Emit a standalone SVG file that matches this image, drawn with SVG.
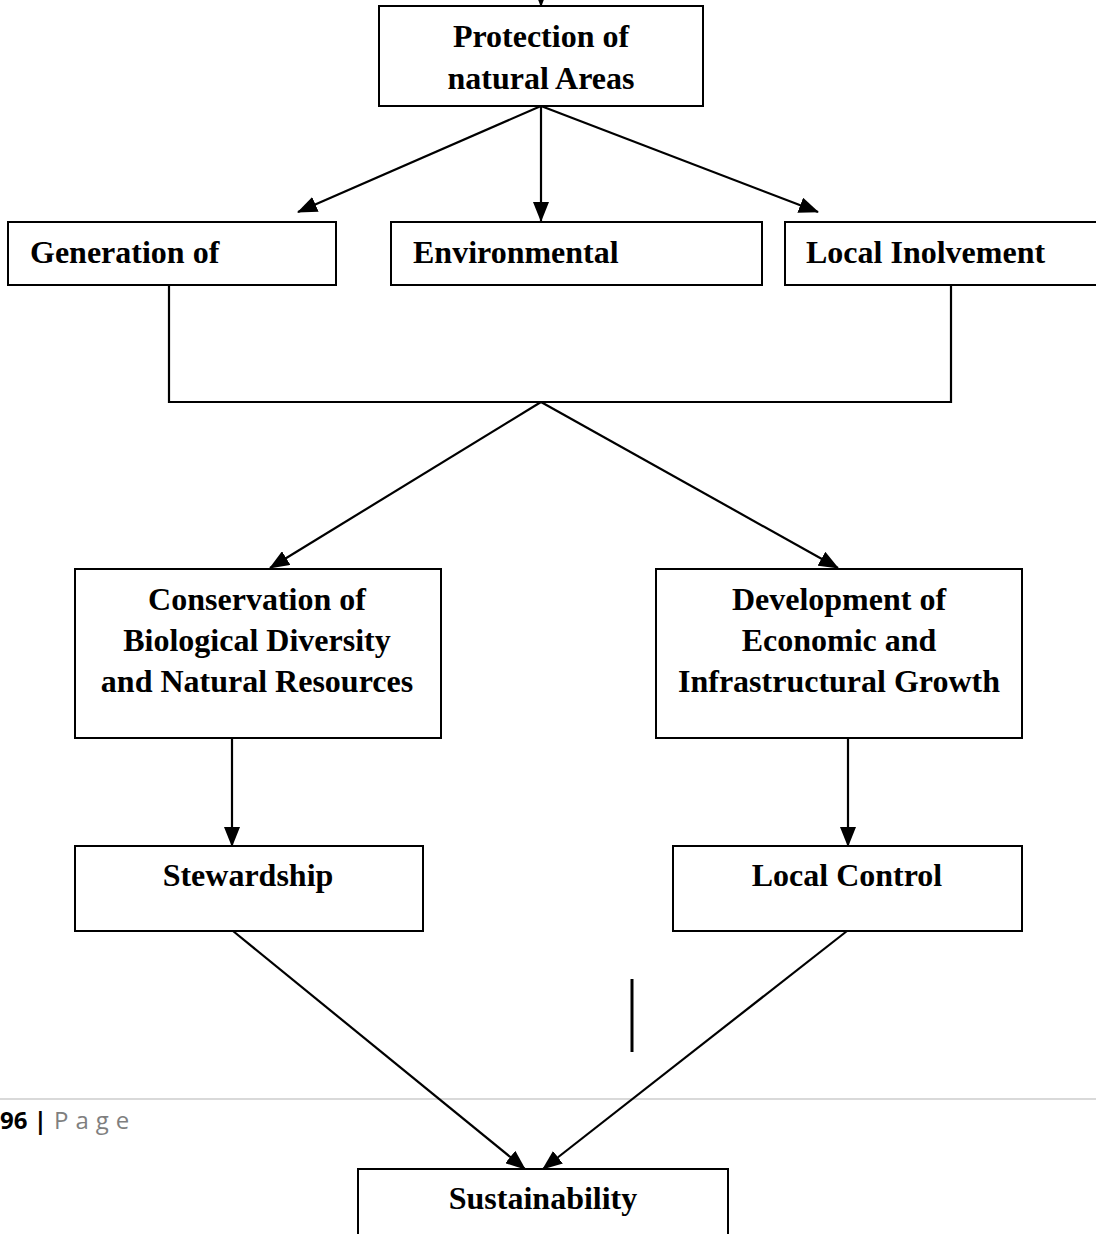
<svg xmlns="http://www.w3.org/2000/svg" width="1096" height="1234" viewBox="0 0 1096 1234">
<defs>
<style>
.box{fill:#fff;stroke:#000;stroke-width:2}
.t{font-family:"Liberation Serif","Times New Roman",serif;font-weight:bold;font-size:32px;fill:#000}
.c{text-anchor:middle}
.ln{fill:none;stroke:#000;stroke-width:2.2}
</style>
<marker id="ah" markerUnits="userSpaceOnUse" markerWidth="20" markerHeight="16" refX="19" refY="8" orient="auto">
<path d="M0,0 L20,8 L0,16 Z" fill="#000"/>
</marker>
</defs>
<rect width="1096" height="1234" fill="#fff"/>
<g id="footer">
<line x1="0" y1="1099" x2="1096" y2="1099" stroke="#d9d9d9" stroke-width="2"/>
<text x="0" y="1129" font-family="'Open Sans','Liberation Sans',sans-serif" font-size="24" font-weight="bold" fill="#000">96 |</text>
<text x="54" y="1129" font-family="'Open Sans','Liberation Sans',sans-serif" font-size="24" fill="#7f7f7f" letter-spacing="7">Page</text>
</g>
<g id="connectors">
<line class="ln" x1="541" y1="-20" x2="541" y2="6" marker-end="url(#ah)"/>
<line class="ln" x1="541" y1="106" x2="298" y2="212" marker-end="url(#ah)"/>
<line class="ln" x1="541" y1="106" x2="541" y2="221" marker-end="url(#ah)"/>
<line class="ln" x1="541" y1="106" x2="818" y2="212" marker-end="url(#ah)"/>
<polyline class="ln" points="169,285 169,402 951,402 951,285"/>
<line class="ln" x1="541" y1="402" x2="270" y2="568" marker-end="url(#ah)"/>
<line class="ln" x1="541" y1="402" x2="838" y2="568" marker-end="url(#ah)"/>
<line class="ln" x1="232" y1="738" x2="232" y2="846" marker-end="url(#ah)"/>
<line class="ln" x1="848" y1="738" x2="848" y2="846" marker-end="url(#ah)"/>
<line class="ln" x1="233" y1="931" x2="525" y2="1169" marker-end="url(#ah)"/>
<line class="ln" x1="847" y1="931" x2="543" y2="1169" marker-end="url(#ah)"/>
<line x1="632" y1="979" x2="632" y2="1052" stroke="#000" stroke-width="3"/>
</g>
<g id="protection">
<rect class="box" x="379" y="6" width="324" height="100"/>
<text class="t c" x="541" y="47">Protection of</text>
<text class="t c" x="541" y="89">natural Areas</text>
</g>
<g id="generation">
<rect class="box" x="8" y="222" width="328" height="63"/>
<text class="t" x="30" y="263">Generation of</text>
</g>
<g id="environmental">
<rect class="box" x="391" y="222" width="371" height="63"/>
<text class="t" x="413" y="263">Environmental</text>
</g>
<g id="local-involvement">
<rect class="box" x="785" y="222" width="330" height="63"/>
<text class="t" x="806" y="263">Local Inolvement</text>
</g>
<g id="conservation">
<rect class="box" x="75" y="569" width="366" height="169"/>
<text class="t c" x="257" y="610">Conservation of</text>
<text class="t c" x="257" y="651">Biological Diversity</text>
<text class="t c" x="257" y="692">and Natural Resources</text>
</g>
<g id="development">
<rect class="box" x="656" y="569" width="366" height="169"/>
<text class="t c" x="839" y="610">Development of</text>
<text class="t c" x="839" y="651">Economic and</text>
<text class="t c" x="839" y="692">Infrastructural Growth</text>
</g>
<g id="stewardship">
<rect class="box" x="75" y="846" width="348" height="85"/>
<text class="t c" x="248" y="886">Stewardship</text>
</g>
<g id="local-control">
<rect class="box" x="673" y="846" width="349" height="85"/>
<text class="t c" x="847" y="886">Local Control</text>
</g>
<g id="sustainability">
<rect class="box" x="358" y="1169" width="370" height="100"/>
<text class="t c" x="543" y="1209">Sustainability</text>
</g>
</svg>
